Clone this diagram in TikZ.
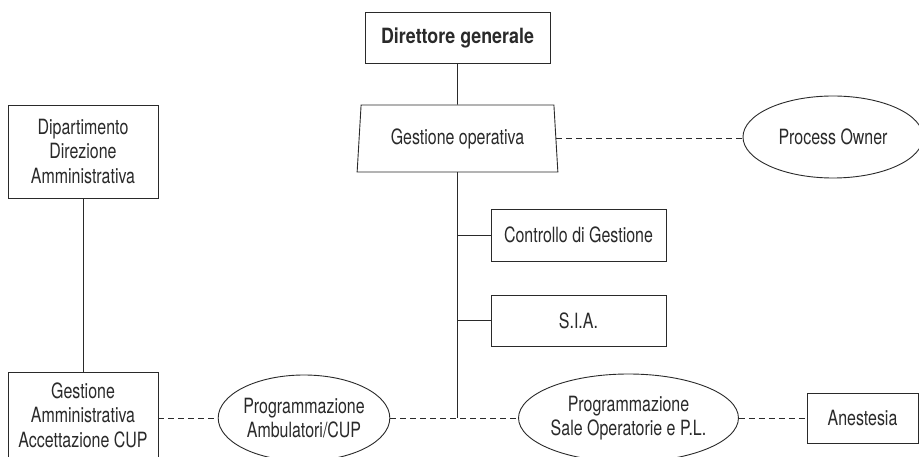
\documentclass[tikz,border=0pt]{standalone}
\usepackage{fontspec}
\setmainfont{TeX Gyre Heros}[FakeStretch=0.76]
\newfontfamily\dirfont{TeX Gyre Heros}[FakeStretch=0.85]
\usetikzlibrary{shapes.geometric}
\definecolor{ink}{HTML}{2A2A2A}
\tikzset{
  base/.style={draw=ink, line width=0.9pt, text=ink, inner sep=0pt, align=center,
    font=\fontsize{21}{24.5}\selectfont},
  boxnode/.style={base, rectangle},
  ovalnode/.style={base, ellipse},
  solidline/.style={draw=ink, line width=0.9pt},
  dashline/.style={draw=ink, line width=0.9pt, dash pattern=on 6pt off 4pt},
}
\begin{document}
\begin{tikzpicture}[x=1pt,y=-1pt]
\useasboundingbox (0,0) rectangle (919,457);
\clip (0,0) rectangle (919,457);
\fill[white] (0,0) rectangle (919,457);

\node[boxnode, minimum width=185pt, minimum height=51pt] (dg) at (457.5,37.5)
  {\dirfont\bfseries Direttore generale};
\node[base, trapezium, trapezium stretches=true, trapezium left angle=82.3,
  trapezium right angle=82.3, minimum width=201pt, minimum height=67pt] (go) at (457.5,138.5)
  {Gestione operativa};
\node[ovalnode, minimum width=180pt, minimum height=82pt] (po) at (833,137) {Process Owner};

\node[boxnode, minimum width=175pt, minimum height=52pt] (cg) at (578.5,235) {Controllo di Gestione};
\node[boxnode, minimum width=175pt, minimum height=51pt] (sia) at (578.5,320.5) {S.I.A.};

\node[boxnode, minimum width=150pt, minimum height=93pt] (dda) at (83,151.5)
  {Dipartimento\\Direzione\\Amministrativa};
\node[boxnode, minimum width=150pt, minimum height=86pt] (gac) at (83,415)
  {Gestione\\Amministrativa\\Accettazione CUP};

\node[ovalnode, minimum width=166pt, minimum height=86pt] (pa) at (304,418)
  {Programmazione\\Ambulatori/CUP};
\node[ovalnode, minimum width=209pt, minimum height=88pt] (ps) at (628.5,418)
  {Programmazione\\Sale Operatorie e P.L.};
\node[boxnode, minimum width=111pt, minimum height=50pt] (an) at (862.5,418) {Anestesia};

% solid connectors
\draw[solidline] (dg.south) -- (go.north);
\draw[solidline] (go.south) -- (go.south |- ps.west);
\draw[solidline] (go.south |- cg.west) -- (cg.west);
\draw[solidline] (go.south |- sia.west) -- (sia.west);
\draw[solidline] (dda.south) -- (gac.north);

% dashed connectors
\draw[dashline] (go.east) -- (go.east -| po.west);
\draw[dashline] (gac.east |- pa.west) -- (pa.west);
\draw[dashline] (pa.east) -- (ps.west);
\draw[dashline] (ps.east) -- (an.west);
\end{tikzpicture}
\end{document}
